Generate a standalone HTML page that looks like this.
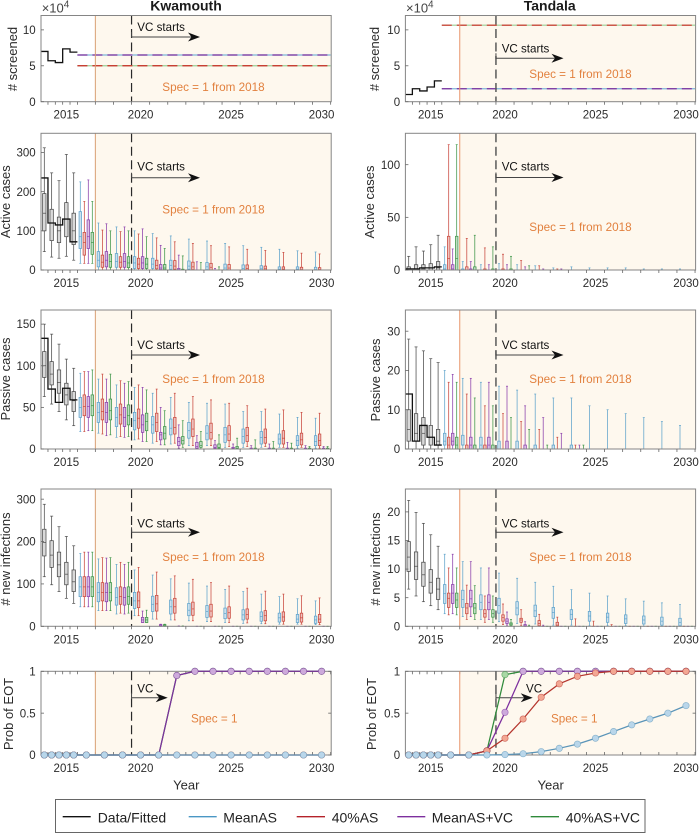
<!DOCTYPE html>
<html lang="en">
<head>
<meta charset="utf-8">
<title>Kwamouth and Tandala projections</title>
<style>
html,body{margin:0;padding:0;background:#fff;}
svg{display:block;font-family:"Liberation Sans",Arial,sans-serif;}
</style>
</head>
<body>
<svg id="chart" width="700" height="834" viewBox="0 0 700 834" xmlns="http://www.w3.org/2000/svg">
  <text x="186" y="10.5" text-anchor="middle" font-size="14" font-weight="bold" fill="#1a1a1a">Kwamouth</text>
  <text x="549.7" y="10.5" text-anchor="middle" font-size="14" font-weight="bold" fill="#1a1a1a">Tandala</text>
  <g id="panels"></g>
  <g>
    <rect x="55.5" y="799.5" width="589.5" height="33" fill="#fff" stroke="#666" stroke-width="1"/>
    <line x1="62.7" x2="90.7" y1="816.7" y2="816.7" stroke="#111" stroke-width="1.3"/>
    <text x="97.7" y="822.5" font-size="14" fill="#222">Data/Fitted</text>
    <line x1="188.7" x2="216.7" y1="816.7" y2="816.7" stroke="#4a97c4" stroke-width="1.3"/>
    <text x="223.3" y="822.5" font-size="14" fill="#222">MeanAS</text>
    <line x1="296.7" x2="325" y1="816.7" y2="816.7" stroke="#b5222a" stroke-width="1.3"/>
    <text x="331.7" y="822.5" font-size="14" fill="#222">40%AS</text>
    <line x1="397.3" x2="425.3" y1="816.7" y2="816.7" stroke="#7d2f9e" stroke-width="1.3"/>
    <text x="431.7" y="822.5" font-size="14" fill="#222">MeanAS+VC</text>
    <line x1="530.7" x2="559" y1="816.7" y2="816.7" stroke="#2f8a3a" stroke-width="1.3"/>
    <text x="565.7" y="822.5" font-size="14" fill="#222">40%AS+VC</text>
  </g>
</svg>
<script>
// ---------- categories ----------
const fittedYears = [2012, 2013, 2014, 2015, 2016];
const projYears = [2017, 2018, 2019, 2020, 2021, 2022, 2023, 2024, 2025, 2026, 2027, 2028, 2029, 2030];
const allYears = fittedYears.concat(projYears);
const xTickLabels = [2015, 2020, 2025, 2030];

// ---------- # screened (x 10^4) ----------
const kwScreenedData = [7, 5.7, 5.45, 7.35, 6.9];
const kwScreenedMeanAS = [6.5,6.5,6.5,6.5,6.5,6.5,6.5,6.5,6.5,6.5,6.5,6.5,6.5,6.5];
const kwScreened40AS = [5,5,5,5,5,5,5,5,5,5,5,5,5,5];
const kwScreenedMeanVC = [6.5,6.5,6.5,6.5,6.5,6.5,6.5,6.5,6.5,6.5,6.5,6.5,6.5,6.5];
const kwScreened40VC = [5,5,5,5,5,5,5,5,5,5,5,5,5,5];
const taScreenedData = [1, 1.8, 1.5, 2.05, 2.9];
const taScreenedMeanAS = [1.8,1.8,1.8,1.8,1.8,1.8,1.8,1.8,1.8,1.8,1.8,1.8,1.8,1.8];
const taScreened40AS = [10.65,10.65,10.65,10.65,10.65,10.65,10.65,10.65,10.65,10.65,10.65,10.65,10.65,10.65];
const taScreenedMeanVC = [1.8,1.8,1.8,1.8,1.8,1.8,1.8,1.8,1.8,1.8,1.8,1.8,1.8,1.8];
const taScreened40VC = [10.65,10.65,10.65,10.65,10.65,10.65,10.65,10.65,10.65,10.65,10.65,10.65,10.65,10.65];

// ---------- box values: [low whisker, q1, median, q3, high whisker] ----------
// Kwamouth active
const kwActiveFitted = [[47,100,145,195,312],[33,75,120,155,248],[30,70,100,135,228],[35,85,130,172,295],[25,65,100,145,248]];
const kwActiveData = [235,120,115,130,72];
const kwActiveMeanAS = [[17,55,85,149,225],[0,8,25,47,120],[0,7,22,42,110],[0,4,18,34,100],[0,4,15,30,93],[0,2,12,25,87],[0,2,10,23,79],[0,1,8,19,74],[0,0,5,15,68],[0,0,4,13,62],[0,0,3,11,58],[0,0,2,8,53],[0,0,2,8,49],[0,0,1,7,46]];
const kwActive40AS = [[17,38,70,96,175],[0,7,20,38,102],[0,7,20,34,98],[0,4,15,30,92],[0,3,12,25,82],[0,2,10,24,72],[0,1,8,20,68],[0,0,7,17,62],[0,0,5,14,59],[0,0,4,13,53],[0,0,3,10,50],[0,0,2,8,45],[0,0,1,7,43],[0,0,1,6,41]];
const kwActiveMeanVC = [[17,55,85,128,230],[0,8,25,47,118],[0,7,22,42,110],[0,4,18,34,105],[0,1,5,14,63],[0,0,1,4,38],[0,0,0,0,21],[0,0,0,0,4],[0,0,0,0,0],[0,0,0,0,0],[0,0,0,0,0],[0,0,0,0,0],[0,0,0,0,0],[0,0,0,0,0]];
const kwActive40VC = [[17,40,70,96,175],[0,7,22,40,100],[0,6,18,34,100],[0,4,15,30,85],[0,1,5,14,55],[0,0,0,2,36],[0,0,0,0,19],[0,0,0,0,8],[0,0,0,0,0],[0,0,0,0,0],[0,0,0,0,0],[0,0,0,0,0],[0,0,0,0,0],[0,0,0,0,0]];
// Kwamouth passive
const kwPassiveFitted = [[63,86,100,117,150],[54,77,90,105,138],[45,67,80,95,126],[35,53,65,79,108],[28,45,58,69,97]];
const kwPassiveData = [133,72,56,73,59];
const kwPassiveMeanAS = [[21,38,50,62,91],[19,32,44,56,84],[14,27,38,50,77],[11,23,34,44,74],[7,19,29,39,67],[6,17,25,36,62],[4,13,22,32,56],[4,11,19,28,55],[2,8,17,26,54],[2,7,15,24,45],[2,6,14,21,45],[2,6,12,18,42],[1,4,10,16,38],[1,4,9,16,37]];
const kwPassive40AS = [[21,40,51,65,93],[18,35,45,60,90],[15,30,41,54,82],[12,25,37,48,77],[9,21,32,43,72],[7,18,26,38,67],[4,15,24,36,63],[4,12,20,31,59],[3,10,18,28,55],[3,9,16,26,52],[3,7,14,24,48],[2,6,13,22,47],[2,5,11,19,44],[1,4,10,18,43]];
const kwPassiveMeanVC = [[22,38,51,63,93],[16,32,44,56,84],[14,27,38,50,79],[9,20,29,41,74],[5,11,17,20,50],[1,4,9,14,29],[0,1,3,8,16],[0,1,2,5,10],[0,0,1,2,6],[0,0,0,1,4],[0,0,0,1,6],[0,0,0,1,8],[0,0,0,1,4],[0,0,0,1,3]];
const kwPassive40VC = [[22,40,52,65,95],[17,35,46,60,90],[15,29,40,53,81],[9,22,33,43,71],[5,12,19,27,46],[2,6,10,15,34],[0,2,4,9,21],[0,1,2,6,17],[0,0,1,3,13],[0,0,0,1,11],[0,0,0,1,9],[0,0,0,1,7],[0,0,0,1,3],[0,0,0,1,3]];
// Kwamouth infections
const kwInfFitted = [[117,166,198,229,288],[98,139,168,202,260],[82,117,145,175,235],[66,98,123,151,212],[54,82,105,133,190]];
const kwInfMeanAS = [[46,70,93,117,172],[37,58,80,103,159],[29,50,68,91,146],[25,42,60,80,133],[17,35,52,71,121],[15,29,46,62,112],[13,25,38,54,102],[11,21,35,49,95],[9,18,30,43,87],[7,15,27,39,82],[6,12,23,34,76],[5,10,20,31,70],[5,9,17,28,65],[4,7,15,24,60]];
const kwInf40AS = [[46,70,93,117,175],[37,60,80,103,162],[31,52,70,93,151],[25,44,60,81,139],[17,36,53,73,128],[15,31,46,66,119],[13,26,41,57,111],[11,22,36,52,103],[9,19,32,46,95],[8,17,28,41,90],[6,13,25,37,83],[5,12,22,34,76],[5,10,20,31,72],[4,9,17,28,67]];
const kwInfMeanVC = [[46,70,93,117,175],[37,58,80,102,161],[29,50,68,91,146],[9,9,15,21,36],[0,0,2,4,5],[0,0,0,0,1],[0,0,0,0,0],[0,0,0,0,0],[0,0,0,0,0],[0,0,0,0,0],[0,0,0,0,0],[0,0,0,0,0],[0,0,0,0,0],[0,0,0,0,0]];
const kwInf40VC = [[46,70,93,117,175],[37,60,80,103,162],[31,52,70,93,151],[9,9,15,21,38],[0,0,2,4,5],[0,0,0,0,1],[0,0,0,0,0],[0,0,0,0,0],[0,0,0,0,0],[0,0,0,0,0],[0,0,0,0,0],[0,0,0,0,0],[0,0,0,0,0],[0,0,0,0,0]];
// Tandala active
const taActiveFitted = [[0,0,1,3,13],[0,0,1,5,22],[0,0,1,5,18],[0,0,2,6,24],[0,0,2,8,33]];
const taActiveData = [1,1,2,2,3];
const taActiveMeanAS = [[0,0,1,5,22],[0,0,0,1,8],[0,0,0,0,5],[0,0,0,0,6],[0,0,0,0,5],[0,0,0,0,4],[0,0,0,0,2],[0,0,0,0,3],[0,0,0,0,2],[0,0,0,0,2],[0,0,0,0,2],[0,0,0,0,1],[0,0,0,0,1],[0,0,0,0,1]];
const taActive40AS = [[0,0,11,32,119],[0,0,0,3,30],[0,0,0,1,21],[0,0,0,1,15],[0,0,0,0,9],[0,0,0,0,4],[0,0,0,0,1],[0,0,0,0,0],[0,0,0,0,0],[0,0,0,0,0],[0,0,0,0,0],[0,0,0,0,0],[0,0,0,0,0],[0,0,0,0,0]];
const taActiveMeanVC = [[0,0,1,5,20],[0,0,0,1,8],[0,0,0,0,5],[0,0,0,0,5],[0,0,0,0,3],[0,0,0,0,1],[0,0,0,0,1],[0,0,0,0,0],[0,0,0,0,0],[0,0,0,0,0],[0,0,0,0,0],[0,0,0,0,0],[0,0,0,0,0],[0,0,0,0,0]];
const taActive40VC = [[0,0,11,32,119],[0,0,0,3,33],[0,0,0,1,22],[0,0,0,1,13],[0,0,0,0,4],[0,0,0,0,0],[0,0,0,0,0],[0,0,0,0,0],[0,0,0,0,0],[0,0,0,0,0],[0,0,0,0,0],[0,0,0,0,0],[0,0,0,0,0],[0,0,0,0,0]];
// Tandala passive
const taPassiveFitted = [[0,2,5,10,28],[0,2,4,9,26],[0,1,4,8,25],[0,1,3,6,23],[0,1,2,5,22]];
const taPassiveData = [14,2,6,3,1];
const taPassiveMeanAS = [[0,1,2,4,20],[0,1,1,3.5,18],[0,0,1,3,17],[0,0,0,2,16],[0,0,0,2,15],[0,0,0,1,14],[0,0,0,1,13],[0,0,0,1,13],[0,0,0,0,11],[0,0,0,0,10],[0,0,0,0,9],[0,0,0,0,8],[0,0,0,0,7],[0,0,0,0,6]];
const taPassive40AS = [[0,0,1,3,17],[0,0,0,1,14],[0,0,0,1,11],[0,0,0,0,9],[0,0,0,0,7],[0,0,0,0,5],[0,0,0,0,3],[0,0,0,0,1],[0,0,0,0,0],[0,0,0,0,0],[0,0,0,0,0],[0,0,0,0,0],[0,0,0,0,0],[0,0,0,0,0]];
const taPassiveMeanVC = [[0,1,2,4,19],[0,0,1,3,18],[0,0,1,3,17],[0,0,0,2,16],[0,0,0,1,11],[0,0,0,0,8],[0,0,0,0,4],[0,0,0,0,1],[0,0,0,0,0],[0,0,0,0,0],[0,0,0,0,0],[0,0,0,0,0],[0,0,0,0,0],[0,0,0,0,0]];
const taPassive40VC = [[0,0,1,3,17],[0,0,0,1,13],[0,0,0,1,11],[0,0,0,0,8],[0,0,0,0,5],[0,0,0,0,1],[0,0,0,0,0],[0,0,0,0,1],[0,0,0,0,0],[0,0,0,0,0],[0,0,0,0,0],[0,0,0,0,0],[0,0,0,0,0],[0,0,0,0,0]];
// Tandala infections
const taInfFitted = [[6.5,9.6,12.1,14.8,22],[5.3,8.2,10.5,13,19.9],[4.3,7,9,11.2,18],[3.6,5.8,7.7,9.9,16],[2.9,4.7,6.5,8.4,14]];
const taInfMeanAS = [[2.2,4,5.7,7.3,12.6],[1.7,3.3,4.7,6.3,11.3],[1.2,2.9,4.2,5.5,10.2],[0.8,2.3,3.6,4.9,9.3],[0.5,2,3.2,4.3,8.4],[0.4,1.7,2.7,3.7,7.7],[0.2,1.4,2.4,3.3,7],[0.2,1.2,2.1,2.9,6.4],[0.1,0.9,1.8,2.6,5.8],[0.1,0.7,1.6,2.3,5.3],[0.1,0.5,1.3,2,4.8],[0,0.4,1.1,1.8,4.4],[0,0.2,0.9,1.6,4.1],[0,0.1,0.7,1.4,3.8]];
const taInf40AS = [[2,3.3,4.9,5.8,10.2],[1.2,2.2,3.2,4,7.2],[0.7,1.6,2.2,2.9,5.3],[0.3,0.9,1.5,2,3.9],[0.1,0.7,1.1,1.4,2.9],[0,0.1,0.5,1,2.1],[0,0,0.2,0.7,1.6],[0,0,0,0,1.3],[0,0,0,0,0.9],[0,0,0,0,0.3],[0,0,0,0,0],[0,0,0,0,0],[0,0,0,0,0],[0,0,0,0,0]];
const taInfMeanVC = [[2.2,4,5.8,7.3,12.6],[1.7,3.4,4.8,6.3,11.3],[1.2,2.9,4.2,5.5,10.2],[0.2,0.5,0.9,1.3,2.5],[0,0,0.1,0.3,0.8],[0,0,0,0,0.2],[0,0,0,0,0],[0,0,0,0,0],[0,0,0,0,0],[0,0,0,0,0],[0,0,0,0,0],[0,0,0,0,0],[0,0,0,0,0],[0,0,0,0,0]];
const taInf40VC = [[2,3.3,4.6,5.8,10.2],[1.2,2.2,3.2,4,7.1],[0.7,1.6,2.2,2.9,5.3],[0,0.2,0.4,0.6,1.2],[0,0,0,0,0.2],[0,0,0,0,0],[0,0,0,0,0],[0,0,0,0,0],[0,0,0,0,0],[0,0,0,0,0],[0,0,0,0,0],[0,0,0,0,0],[0,0,0,0,0],[0,0,0,0,0]];

// ---------- probability of EOT (all 19 years) ----------
const kwProbMeanAS = [0,0,0,0,0,0,0,0,0,0,0,0,0,0,0,0,0,0,0];
const kwProb40AS = [0,0,0,0,0,0,0,0,0,0,0,0,0,0,0,0,0,0,0];
const kwProbMeanVC = [0,0,0,0,0,0,0,0,0,0,0.95,1,1,1,1,1,1,1,1];
const kwProb40VC = [0,0,0,0,0,0,0,0,0,0,0.95,1,1,1,1,1,1,1,1];
const taProbMeanAS = [0,0,0,0,0,0,0,0,0.005,0.015,0.04,0.08,0.13,0.2,0.28,0.36,0.43,0.5,0.59];
const taProb40AS = [0,0,0,0,0,0,0,0.05,0.2,0.43,0.69,0.85,0.94,0.98,1,1,1,1,1];
const taProbMeanVC = [0,0,0,0,0,0,0,0.05,0.51,1,1,1,1,1,1,1,1,1,1];
const taProb40VC = [0,0,0,0,0,0,0,0.05,0.96,1,1,1,1,1,1,1,1,1,1];

// ---------- styling ----------
const blue = '#5fa3cb', red = '#c9473c', purple = '#8b3fab', green = '#3f9648', ink = '#2b2b2b';
const NS = 'http://www.w3.org/2000/svg';
const root = document.getElementById('panels');

function mk(tag, attrs, parent) {
  const el = document.createElementNS(NS, tag);
  for (const k in attrs) el.setAttribute(k, attrs[k]);
  parent.appendChild(el);
  return el;
}

// ---------- x axis functions ----------
function yearX(year) {
  return year <= 2016 ? 44.3 + 7.35 * (year - 2012) : 86.3 + 18.1 * (year - 2017);
}
function edgeX(year) { // boundary just after a year
  return year < 2016 ? yearX(year) + 3.67 : (year === 2016 ? 77.4 : yearX(year) + 9.05);
}

function panelAxes(col, top, bottom, ymax) {
  const dx = col === 0 ? 0 : 364.4;
  return {
    col: col,
    dx: dx,
    left: 41 + dx,
    right: 331.2 + dx,
    top: top,
    bottom: bottom,
    x: function (year) { return yearX(year) + dx; },
    edge: function (year) { return edgeX(year) + dx; },
    y: function (v) { return bottom - v * (bottom - top) / ymax; }
  };
}

function drawFrame(g, ax, yLabel, yLabelX, yLabelY) {
  const cream = mk('rect', {x: ax.edge(2017), y: ax.top, width: ax.right - ax.edge(2017), height: ax.bottom - ax.top, fill: '#fef8ee'}, g);
  
  
  const title = mk('text', {x: yLabelX, y: yLabelY, 'text-anchor': 'middle', 'font-size': 13, fill: ink, transform: 'rotate(-90 ' + yLabelX + ' ' + yLabelY + ')'}, g);
  title.textContent = yLabel;
  
  
}

function drawOverlays(g, ax, vcText, vcTextY, arrowY, arrowTip, vcTextX, specText, specX, specY) {
  const specLine = mk('line', {x1: ax.edge(2017), x2: ax.edge(2017), y1: ax.top, y2: ax.bottom, stroke: ax.col === 0 ? '#d9a074' : '#e8956c', 'stroke-width': 1}, g);
  
  
  const vcLine = mk('line', {x1: ax.edge(2019), x2: ax.edge(2019), y1: ax.top, y2: ax.bottom, stroke: ax.col === 0 ? '#2a2a2a' : '#5a5a5a', 'stroke-width': ax.col === 0 ? 1.2 : 1.5, 'stroke-dasharray': '9 4.5'}, g);
  
  
  const sx = ax.edge(2019);
  const shaft = mk('path', {d: 'M' + sx + ' ' + (arrowY - 5) + 'V' + arrowY + 'H' + (arrowTip - 8), fill: 'none', stroke: '#444', 'stroke-width': 1}, g);
  
  
  const head = mk('path', {d: 'M' + arrowTip + ' ' + arrowY + 'L' + (arrowTip - 12) + ' ' + (arrowY - 4.5) + 'L' + (arrowTip - 8.5) + ' ' + arrowY + 'L' + (arrowTip - 12) + ' ' + (arrowY + 4.5) + 'Z', fill: '#111'}, g);
  
  
  const vcLabel = mk('text', {x: vcTextX, y: vcTextY, 'font-size': 11.6, fill: '#111'}, g);
  vcLabel.textContent = vcText;
  
  
  const specLabel = mk('text', {x: specX, y: specY, 'font-size': 11.7, fill: '#e2813f'}, g);
  specLabel.textContent = specText;
  
  
}

function drawAxes(g, ax, yTicks, yTickFmt, inward) {
  const frame = mk('rect', {x: ax.left, y: ax.top, width: ax.right - ax.left, height: ax.bottom - ax.top, fill: 'none', stroke: '#858585', 'stroke-width': 1}, g);
  
  
  const edges = [];
  for (const yr of allYears) edges.push(ax.edge(yr));
  for (const ex of edges) {
    const t = mk('line', {x1: ex, x2: ex, y1: ax.bottom, y2: inward ? ax.bottom - 3 : ax.bottom + 3, stroke: '#666', 'stroke-width': 0.8}, g);
    
    
    if (inward) {
      const t2 = mk('line', {x1: ex, x2: ex, y1: ax.top, y2: ax.top + 3, stroke: '#666', 'stroke-width': 0.8}, g);
      
      
    }
  }
  for (const yr of xTickLabels) {
    const lab = mk('text', {x: ax.x(yr), y: ax.bottom + 17, 'text-anchor': 'middle', 'font-size': 11.5, fill: ink}, g);
    lab.textContent = String(yr);
    
    
  }
  for (const v of yTicks) {
    const t = mk('line', {x1: ax.left, x2: ax.left + 3, y1: ax.y(v), y2: ax.y(v), stroke: '#666', 'stroke-width': 0.8}, g);
    
    
    if (inward) {
      const tr = mk('line', {x1: ax.right, x2: ax.right - 3, y1: ax.y(v), y2: ax.y(v), stroke: '#666', 'stroke-width': 0.8}, g);
      
      
    }
    const lab = mk('text', {x: ax.left - 5.3, y: ax.y(v) + 4.1, 'text-anchor': 'end', 'font-size': 11.5, fill: ink}, g);
    lab.textContent = yTickFmt ? yTickFmt(v) : String(v);
    
    
  }
}

function drawBox(g, ax, cx, vals, color, isFitted) {
  const stroke = isFitted ? '#4a4a4a' : color;
  const fill = isFitted ? '#c4c4c4' : color;
  const box = mk('g', {}, g);
  
  
  const yLow = ax.y(vals[0]), yQ1 = ax.y(vals[1]), yMed = ax.y(vals[2]), yQ3 = ax.y(vals[3]), yHigh = ax.y(vals[4]);
  const w = isFitted ? 3.4 : 2.5, cap = isFitted ? 1.5 : 1;
  mk('line', {x1: cx, x2: cx, y1: yLow, y2: yHigh, stroke: stroke, 'stroke-width': 0.75}, box);
  mk('line', {x1: cx - cap, x2: cx + cap, y1: yHigh, y2: yHigh, stroke: stroke, 'stroke-width': 0.7}, box);
  mk('line', {x1: cx - cap, x2: cx + cap, y1: yLow, y2: yLow, stroke: stroke, 'stroke-width': 0.7}, box);
  mk('rect', {x: cx - w / 2, y: yQ3, width: w, height: Math.max(yQ1 - yQ3, 0), fill: '#fff', stroke: 'none'}, box);
  mk('rect', {x: cx - w / 2, y: yQ3, width: w, height: Math.max(yQ1 - yQ3, 0), fill: fill, 'fill-opacity': isFitted ? 0.65 : 0.32, stroke: stroke, 'stroke-width': 0.75}, box);
  mk('line', {x1: cx - w / 2, x2: cx + w / 2, y1: yMed, y2: yMed, stroke: stroke, 'stroke-width': 0.7}, box);
}

function stairPath(ax, years, vals) {
  let d = '';
  years.forEach(function (yr, i) {
    const x0 = i === 0 ? (yr === 2012 ? ax.left : ax.edge(yr - 1)) : ax.edge(yr - 1);
    const x1 = ax.edge(yr);
    d += (i === 0 ? 'M' : 'L') + x0 + ' ' + ax.y(vals[i]) + 'L' + x1 + ' ' + ax.y(vals[i]);
  });
  return d;
}

function drawBoxPanel(cfg) {
  const g = mk('g', {}, root);
  
  
  const ax = panelAxes(cfg.col, cfg.top, cfg.bottom, cfg.ymax);
  drawFrame(g, ax, cfg.yLabel, cfg.yLabelX, cfg.yLabelY);
  fittedYears.forEach(function (yr, i) {
    drawBox(g, ax, ax.x(yr), cfg.fitted[i], '#444', true);
  });
  const offsets = [-6, -2, 2, 6];
  const colors = [blue, red, purple, green];
  projYears.forEach(function (yr, i) {
    cfg.series.forEach(function (s, k) {
      drawBox(g, ax, ax.x(yr) + offsets[k], s[i], colors[k], false);
    });
  });
  if (cfg.data) {
    const stair = mk('path', {d: stairPath(ax, fittedYears, cfg.data), fill: 'none', stroke: '#111', 'stroke-width': 1.3}, g);
    
    
  }
  drawOverlays(g, ax, 'VC starts', cfg.vcY + 4, cfg.arrowY, cfg.col === 0 ? 200 : 563.5, cfg.col === 0 ? 137.3 : 501.7, 'Spec = 1 from 2018', cfg.col === 0 ? 162.3 : 529.3, cfg.specY + 4.2);
  drawAxes(g, ax, cfg.yTicks, null, false);
}

function drawScreenedPanel(cfg) {
  const g = mk('g', {}, root);
  
  
  const ax = panelAxes(cfg.col, 15.5, 101.7, 12);
  drawFrame(g, ax, '# screened', cfg.yLabelX, 59);
  const pairs = [[cfg.meanAS, '#7db6d8', null, 'screened-meanas'], [cfg.as40VC, '#9ad096', null, 'screened-40as-vc'], [cfg.meanVC, '#7d2f9e', '10 5', 'screened-meanas-vc'], [cfg.as40, '#cc2a22', '10 5', 'screened-40as']];
  for (const p of pairs) {
    const attrs = {d: stairPath(ax, projYears, p[0]), fill: 'none', stroke: p[1], 'stroke-width': 1.2};
    if (p[2]) attrs['stroke-dasharray'] = p[2];
    const ln = mk('path', attrs, g);
    
    
  }
  const stair = mk('path', {d: stairPath(ax, fittedYears, cfg.data), fill: 'none', stroke: '#111', 'stroke-width': 1.3}, g);
  
  
  drawOverlays(g, ax, 'VC starts', cfg.vcY + 4, cfg.arrowY, cfg.col === 0 ? 200 : 563.5, cfg.col === 0 ? 137.3 : 501.7, 'Spec = 1 from 2018', cfg.col === 0 ? 162.3 : 529.3, cfg.specY + 4.2);
  drawAxes(g, ax, [0, 5, 10], null, false);
  const mult = mk('text', {x: cfg.col === 0 ? 41.7 : 406, y: 12.5, 'font-size': 13, fill: '#444'}, g);
  mult.textContent = '\u00d710';
  
  
  const exp = mk('text', {x: (cfg.col === 0 ? 41.7 : 406) + 22, y: 7.5, 'font-size': 10, fill: '#444'}, g);
  exp.textContent = '4';
  
  
}

function drawProbPanel(cfg) {
  const g = mk('g', {}, root);
  
  
  const ax = panelAxes(cfg.col, 671.3, 755, 1);
  drawFrame(g, ax, 'Prob of EOT', cfg.yLabelX, 714);
  drawAxes(g, ax, [0, 0.5, 1], null, true);
  drawOverlays(g, ax, 'VC', 692.5, 697.7, cfg.col === 0 ? 167.7 : 532.7, cfg.col === 0 ? 137.3 : 526, 'Spec = 1', cfg.col === 0 ? 191 : 551, 722.5);
  const layers = [
    [cfg.as40VC, '#2f8a3a', '#a9d8a5', 'prob-40as-vc'],
    [cfg.meanVC, '#7d2f9e', '#cdaadb', 'prob-meanas-vc'],
    [cfg.as40, '#b5352d', '#f3a793', 'prob-40as'],
    [cfg.meanAS, '#5a94b8', '#b9d6ea', 'prob-meanas']
  ];
  for (const l of layers) {
    const pts = allYears.map(function (yr, i) { return ax.x(yr) + ' ' + ax.y(l[0][i]); }).join(' L');
    const line = mk('path', {d: 'M' + pts, fill: 'none', stroke: l[1], 'stroke-width': 1.25}, g);
    
    
    allYears.forEach(function (yr, i) {
      const c = mk('circle', {cx: ax.x(yr), cy: ax.y(l[0][i]), r: 3.2, fill: l[2], stroke: l[1], 'stroke-width': 0.7, 'stroke-opacity': 0.6}, g);
      
      
    });
  }
  const xt = mk('text', {x: cfg.col === 0 ? 186.3 : 550.7, y: 789.5, 'text-anchor': 'middle', 'font-size': 13, fill: ink}, g);
  xt.textContent = 'Year';
  
  
}

// ---------- build ----------
drawScreenedPanel({name: 'kwamouth-screened-panel', col: 0, yLabelX: 17, data: kwScreenedData, meanAS: kwScreenedMeanAS, as40: kwScreened40AS, meanVC: kwScreenedMeanVC, as40VC: kwScreened40VC, vcY: 27, arrowY: 37, specY: 86.7});
drawScreenedPanel({name: 'tandala-screened-panel', col: 1, yLabelX: 379, data: taScreenedData, meanAS: taScreenedMeanAS, as40: taScreened40AS, meanVC: taScreenedMeanVC, as40VC: taScreened40VC, vcY: 48.3, arrowY: 58.3, specY: 73.7});

drawBoxPanel({name: 'kwamouth-active-panel', col: 0, top: 133.3, bottom: 270, ymax: 349, yLabel: 'Active cases', yLabelX: 10, yLabelY: 201.7, yTicks: [0, 100, 200, 300], fitted: kwActiveFitted, data: kwActiveData, series: [kwActiveMeanAS, kwActive40AS, kwActiveMeanVC, kwActive40VC], vcY: 166.7, arrowY: 177.7, specY: 209.3});
drawBoxPanel({name: 'tandala-active-panel', col: 1, top: 133.3, bottom: 270, ymax: 129.8, yLabel: 'Active cases', yLabelX: 374, yLabelY: 202, yTicks: [0, 50, 100], fitted: taActiveFitted, data: taActiveData, series: [taActiveMeanAS, taActive40AS, taActiveMeanVC, taActive40VC], vcY: 166.7, arrowY: 177.5, specY: 226.7});

drawBoxPanel({name: 'kwamouth-passive-panel', col: 0, top: 310, bottom: 449, ymax: 167, yLabel: 'Passive cases', yLabelX: 10, yLabelY: 379, yTicks: [0, 50, 100, 150], fitted: kwPassiveFitted, data: kwPassiveData, series: [kwPassiveMeanAS, kwPassive40AS, kwPassiveMeanVC, kwPassive40VC], vcY: 345, arrowY: 355, specY: 379});
drawBoxPanel({name: 'tandala-passive-panel', col: 1, top: 310, bottom: 449, ymax: 35.4, yLabel: 'Passive cases', yLabelX: 380, yLabelY: 380, yTicks: [0, 10, 20, 30], fitted: taPassiveFitted, data: taPassiveData, series: [taPassiveMeanAS, taPassive40AS, taPassiveMeanVC, taPassive40VC], vcY: 345, arrowY: 355, specY: 379});

drawBoxPanel({name: 'kwamouth-infections-panel', col: 0, top: 489, bottom: 626.3, ymax: 324, yLabel: '# new infections', yLabelX: 10, yLabelY: 559, yTicks: [0, 100, 200, 300], fitted: kwInfFitted, data: null, series: [kwInfMeanAS, kwInf40AS, kwInfMeanVC, kwInf40VC], vcY: 523.3, arrowY: 532.3, specY: 557});
drawBoxPanel({name: 'tandala-infections-panel', col: 1, top: 489, bottom: 626.3, ymax: 24, yLabel: '# new infections', yLabelX: 380, yLabelY: 559, yTicks: [0, 5, 10, 15, 20], fitted: taInfFitted, data: null, series: [taInfMeanAS, taInf40AS, taInfMeanVC, taInf40VC], vcY: 523.3, arrowY: 532.3, specY: 557});

drawProbPanel({name: 'kwamouth-eot-panel', col: 0, yLabelX: 13, meanAS: kwProbMeanAS, as40: kwProb40AS, meanVC: kwProbMeanVC, as40VC: kwProb40VC});
drawProbPanel({name: 'tandala-eot-panel', col: 1, yLabelX: 376, meanAS: taProbMeanAS, as40: taProb40AS, meanVC: taProbMeanVC, as40VC: taProb40VC});
</script>
</body>
</html>
